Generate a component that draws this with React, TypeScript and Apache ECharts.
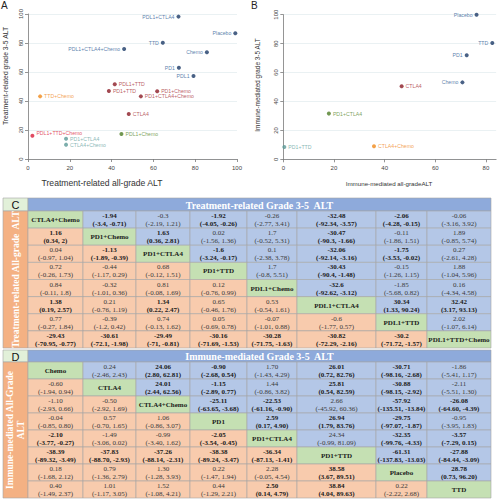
import React, { useEffect, useRef } from 'react';
import * as echarts from 'echarts';

// ---------- Panel A: treatment-related ALT (SUCRA) ----------
const aNames = ['PDL1+CTLA4', 'Placebo', 'TTD', 'PDL1+CTLA4+Chemo', 'Chemo', 'PD1', 'PDL1',
  'PDL1+TTD', 'PD1+TTD', 'PD1+Chemo', 'PD1+CTLA4+Chemo', 'CTLA4',
  'TTD+Chemo', 'PDL1+TTD+Chemo', 'PDL1+Chemo', 'PD1+CTLA4', 'CTLA4+Chemo'];
const aX = [72.0, 99.2, 64.5, 46.0, 85.6, 72.2, 79.2, 41.5, 38.7, 61.8, 54.0, 48.2, 5.8, 2.1, 44.7, 18.2, 18.2];
const aY = [98.2, 86.7, 80.2, 75.9, 73.6, 63.0, 57.2, 51.5, 46.9, 46.7, 43.2, 31.0, 43.2, 16.1, 17.2, 14.0, 9.9];
const aGroup = ['blue', 'blue', 'blue', 'blue', 'blue', 'blue', 'blue', 'red', 'red', 'red', 'red', 'red',
  'orange', 'crimson', 'green', 'teal', 'teal'];

// ---------- Panel B: immune-mediated ALT ----------
const bNames = ['Placebo', 'TTD', 'PD1', 'Chemo', 'CTLA4', 'PD1+CTLA4', 'PD1+TTD', 'CTLA4+Chemo'];
const bX = [76.3, 82.5, 72.4, 70.7, 46.7, 18.0, 0.4, 35.8];
const bY = [100, 80.4, 71.9, 53.2, 50.5, 31.6, 8.5, 9.0];
const bGroup = ['blue', 'blue', 'blue', 'blue', 'red', 'green', 'teal', 'orange'];

const axisTicks = [0, 20, 40, 60, 80, 100];

// ---------- Table C ----------
const cNames = ['CTLA4+Chemo', 'PD1+Chemo', 'PD1+CTLA4', 'PD1+TTD', 'PDL1+Chemo', 'PDL1+CTLA4', 'PDL1+TTD', 'PDL1+TTD+Chemo'];
const cEst = [
  [null, -1.94, -0.3, -1.92, -0.26, -32.48, -2.06, -0.06],
  [1.16, null, 1.63, 0.02, 1.7, -30.47, -0.11, 1.89],
  [0.04, -1.13, null, -1.6, 0.1, -32.06, -1.75, 0.27],
  [0.72, -0.44, 0.68, null, 1.7, -30.43, -0.15, 1.88],
  [0.84, -0.32, 0.81, 0.12, null, -32.6, -1.85, 0.16],
  [1.38, 0.21, 1.34, 0.65, 0.53, null, 30.34, 32.42],
  [0.77, -0.39, 0.74, 0.05, -0.07, -0.6, null, 2.02],
  [-29.43, -30.61, -29.49, -30.16, -30.28, -30.82, -30.2, null],
];
const cLo = [
  [null, -3.4, -2.19, -4.05, -2.77, -92.34, -4.28, -3.16],
  [0.34, null, 0.36, -1.56, -0.52, -90.3, -1.86, -0.85],
  [-0.97, -1.89, null, -3.24, -2.38, -92.14, -3.53, -2.61],
  [-0.26, -1.17, -0.12, null, -0.8, -90.4, -1.26, -1.04],
  [-0.11, -1.01, -0.08, -0.76, null, -92.62, -5.68, -4.34],
  [0.19, -0.76, 0.22, -0.46, -0.54, null, 1.33, 3.17],
  [-0.27, -1.2, -0.13, -0.69, -1.01, -1.77, null, -1.07],
  [-70.95, -72.1, -71, -71.69, -71.75, -72.29, -71.72, null],
];
const cHi = [
  [null, -0.71, 1.21, -0.26, 3.41, -3.57, -0.15, 3.92],
  [2, null, 2.81, 1.36, 5.31, -1.66, 1.51, 5.74],
  [1.04, -0.39, null, -0.17, 3.78, -3.16, -0.02, 4.28],
  [1.73, 0.29, 1.51, null, 5.51, -1.48, 1.15, 5.96],
  [1.8, 0.36, 1.69, 0.99, null, -3.12, 0.82, 4.58],
  [2.57, 1.19, 2.47, 1.76, 1.61, null, 90.24, 93.13],
  [1.84, 0.42, 1.62, 0.78, 0.88, 0.57, null, 6.14],
  [-0.77, -1.98, -0.81, -1.53, -1.63, -2.16, -1.57, null],
];
const cBoldExtra: number[][] = [];

// ---------- Table D ----------
const dNames = ['Chemo', 'CTLA4', 'CTLA4+Chemo', 'PD1', 'PD1+CTLA4', 'PD1+TTD', 'Placebo', 'TTD'];
const dEst = [
  [null, 0.24, 24.06, -0.90, 1.70, 26.01, -30.71, -1.86],
  [-0.60, null, 24.01, -1.15, 1.44, 25.81, -30.88, -2.11],
  [-1.10, -0.50, null, -25.11, -22.53, 2.66, -57.92, -26.08],
  [-0.04, 0.57, 1.06, null, 2.59, 26.94, -29.75, -0.95],
  [-2.10, -1.49, -0.99, -2.05, null, 24.34, -32.35, -3.57],
  [-38.39, -37.83, -37.26, -38.38, -36.34, null, -61.31, -27.88],
  [0.18, 0.79, 1.30, 0.22, 2.28, 38.58, null, 28.78],
  [0.40, 1.01, 1.52, 0.44, 2.50, 38.84, 0.22, null],
];
const dLo = [
  [null, -2.46, 2.80, -2.68, -1.43, 0.72, -98.16, -5.41],
  [-1.94, null, 2.44, -2.89, -0.86, 0.54, -98.15, -5.51],
  [-2.93, -2.92, null, -63.65, -61.16, -45.92, -135.51, -64.60],
  [-0.85, -0.70, -0.86, null, 0.17, 1.79, -97.07, -3.95],
  [-3.77, -3.06, -3.40, -3.54, null, -0.99, -99.76, -7.29],
  [-89.32, -88.70, -88.14, -89.24, -87.13, null, -137.83, -84.44],
  [-1.68, -1.36, -1.28, -1.47, -0.05, 3.67, null, 0.73],
  [-1.49, -1.17, -1.08, -1.29, 0.14, 4.04, -2.22, null],
];
const dHi = [
  [null, 2.43, 62.81, 0.54, 4.29, 82.76, -2.68, 1.17],
  [0.94, null, 62.56, 0.77, 3.82, 82.59, -2.92, 1.30],
  [0.66, 1.69, null, -3.68, -0.90, 60.36, -13.84, -4.39],
  [0.80, 1.65, 3.07, null, 4.90, 83.76, -1.87, 1.83],
  [-0.27, 0.02, 1.62, -0.45, null, 81.09, -4.33, 0.15],
  [-3.49, -2.93, -2.31, -3.47, -1.41, null, -13.03, -3.09],
  [2.12, 2.79, 3.93, 1.94, 4.54, 89.51, null, 96.20],
  [2.37, 3.05, 4.21, 2.21, 4.79, 89.63, 2.68, null],
];
const dBoldExtra = [[0, 3], [1, 3], [4, 7]];

// ---------- layout / style ----------
const COL_EDGES = [0, 55, 108, 162, 219, 269, 348, 399, 463];
const SANS = 'Liberation Sans, Arial, sans-serif';
const SERIF = 'Liberation Serif, Times New Roman, serif';
const GROUPS: Record<string, any> = {
  blue: { dot: '#1b3a66', label: '#2f5d95', side: 'left', dy: 0 },
  red: { dot: '#8b1c26', label: '#a83238', side: 'right', dy: 0 },
  orange: { dot: '#f08a1c', label: '#f08a1c', side: 'right', dy: 0 },
  crimson: { dot: '#d91e3a', label: '#d91e3a', side: 'right', dy: -3 },
  green: { dot: '#4e7d25', label: '#5a8a30', side: 'right', dy: 0 },
  teal: { dot: '#5b9a97', label: '#6aa5a2', side: 'right', dy: 0 },
};
const C_BLUE = '#b4c7e7';
const C_ORANGE = '#f8cbad';
const C_GREEN = '#c5e0b3';
const C_HEAD = '#8eaadb';
const C_SIDE = '#f4b183';
const C_BOX = '#e2f0d9';
const BORDER = '#a6a6a6';

function scatterSeries(names: string[], xs: number[], ys: number[], groups: string[], idx: number) {
  return Object.keys(GROUPS).map((g) => {
    const st = GROUPS[g];
    const data = names
      .map((n, i) => ({ name: n, value: [xs[i], ys[i]], g: groups[i] }))
      .filter((d) => d.g === g)
      .map((d) => ({ name: d.name, value: d.value }));
    return {
      type: 'scatter',
      xAxisIndex: idx,
      yAxisIndex: idx,
      symbolSize: 4,
      itemStyle: { color: st.dot },
      label: {
        show: true,
        position: st.side,
        distance: 2,
        offset: [0, st.dy],
        formatter: '{b}',
        color: st.label,
        fontSize: 5.2,
        fontFamily: SANS,
      },
      data,
    };
  }).filter((s) => s.data.length > 0);
}

function tableSeries(names: string[], est: any[][], lo: any[][], hi: any[][], fmt: (v: number) => string,
  boldExtra: number[][], idx: number) {
  const data: number[][] = [];
  for (let r = 0; r < names.length; r++) for (let c = 0; c < names.length; c++) data.push([c, r]);
  return {
    type: 'custom',
    xAxisIndex: idx,
    yAxisIndex: idx,
    silent: true,
    clip: false,
    renderItem: (params: any, api: any) => {
      const c = api.value(0);
      const r = api.value(1);
      const p0 = api.coord([COL_EDGES[c], r]);
      const p1 = api.coord([COL_EDGES[c + 1], r + 1]);
      const x = p0[0];
      const y = p0[1];
      const w = p1[0] - p0[0];
      const h = p1[1] - p0[1];
      let fill: string;
      let text: string;
      let bold: boolean;
      let color = '#1a1a1a';
      if (r === c) {
        fill = C_GREEN;
        text = names[r];
        bold = true;
      } else {
        fill = c > r ? C_BLUE : C_ORANGE;
        const l = lo[r][c];
        const u = hi[r][c];
        text = fmt(est[r][c]) + '\n(' + fmt(l) + ', ' + fmt(u) + ')';
        bold = (l > 0 && u > 0) || (l < 0 && u < 0) || boldExtra.some((p) => p[0] === r && p[1] === c);
        if (!bold) color = '#3a3a3a';
      }
      return {
        type: 'group',
        children: [
          { type: 'rect', shape: { x, y, width: w, height: h }, style: { fill, stroke: BORDER, lineWidth: 0.6 } },
          {
            type: 'text',
            style: {
              text, x: x + w / 2, y: y + h / 2 + 0.5, align: 'center', verticalAlign: 'middle',
              fill: color, fontSize: 7, fontFamily: SERIF, fontWeight: bold ? 'bold' : 'normal', lineHeight: 8,
            },
          },
        ],
      };
    },
    data,
  };
}

const fmtC = (v: number) => String(v);
const fmtD = (v: number) => v.toFixed(2);

function scatterAxes(left: number, top: number, width: number, height: number, xMax: number) {
  const grid = { left, top, width, height };
  const axisLine = { show: true, lineStyle: { color: '#7a7a7a', width: 0.8 } };
  const xAxis = {
    type: 'value', min: 0, max: xMax, interval: 20,
    axisLine, axisTick: { show: true, length: 3, lineStyle: { color: '#7a7a7a', width: 0.8 }, customValues: axisTicks.filter((t) => t <= xMax) },
    axisLabel: { fontSize: 6, color: '#444', fontFamily: SANS, margin: 6, customValues: axisTicks.filter((t) => t <= xMax) },
    splitLine: { show: false },
  };
  const yAxis = {
    type: 'value', min: 0, max: 100, interval: 20,
    axisLine, axisTick: { show: true, length: 3, lineStyle: { color: '#7a7a7a', width: 0.8 } },
    axisLabel: { fontSize: 6, color: '#444', fontFamily: SANS, margin: 4, rotate: 90 },
    splitLine: { show: true, lineStyle: { color: '#e4eef0', width: 0.8 } },
  };
  return { grid, xAxis, yAxis };
}

function tableAxes(left: number, top: number, width: number, height: number) {
  return {
    grid: { left, top, width, height },
    xAxis: { type: 'value', min: 0, max: COL_EDGES[COL_EDGES.length - 1], show: false },
    yAxis: { type: 'value', min: 0, max: 8, inverse: true, show: false },
  };
}

function buildOption() {
  const A = scatterAxes(28, 14, 209, 145, 100);
  const B = scatterAxes(283.3, 14.7, 212.8, 144.6, 84);
  const C = tableAxes(28, 211, 463, 137);
  const D = tableAxes(28, 362, 463, 136);
  const headText = (text: string, x: number, y: number) => ({
    type: 'text', x, y,
    style: { text, align: 'center', verticalAlign: 'middle', fill: '#fff', fontSize: 10, fontWeight: 'bold', fontFamily: SERIF },
  });
  const rect = (x: number, y: number, w: number, h: number, fill: string) => ({
    type: 'rect', shape: { x, y, width: w, height: h }, style: { fill, stroke: BORDER, lineWidth: 0.6 },
  });
  return {
    animation: false,
    backgroundColor: '#ffffff',
    grid: [A.grid, B.grid, C.grid, D.grid],
    xAxis: [
      { ...A.xAxis, gridIndex: 0 }, { ...B.xAxis, gridIndex: 1 },
      { ...C.xAxis, gridIndex: 2 }, { ...D.xAxis, gridIndex: 3 },
    ],
    yAxis: [
      { ...A.yAxis, gridIndex: 0 }, { ...B.yAxis, gridIndex: 1 },
      { ...C.yAxis, gridIndex: 2 }, { ...D.yAxis, gridIndex: 3 },
    ],
    series: [
      ...scatterSeries(aNames, aX, aY, aGroup, 0),
      ...scatterSeries(bNames, bX, bY, bGroup, 1),
      tableSeries(cNames, cEst, cLo, cHi, fmtC, cBoldExtra, 2),
      tableSeries(dNames, dEst, dLo, dHi, fmtD, dBoldExtra, 3),
    ],
    graphic: [
      // panel letters
      { type: 'text', x: 1, y: 0, style: { text: 'A', fontSize: 10, fontFamily: SANS, fill: '#222' } },
      { type: 'text', x: 251, y: 0, style: { text: 'B', fontSize: 10, fontFamily: SANS, fill: '#222' } },
      // axis titles
      { type: 'text', x: 102, y: 183, style: { text: 'Treatment-related all-grade ALT', align: 'center', verticalAlign: 'middle', fontSize: 8.6, fontFamily: SANS, fill: '#333' } },
      { type: 'text', x: 5, y: 76, rotation: Math.PI / 2, style: { text: 'Treatment-related grade 3-5 ALT', align: 'center', verticalAlign: 'middle', fontSize: 6.8, fontFamily: SANS, fill: '#333' } },
      { type: 'text', x: 389, y: 183, style: { text: 'Immune-mediated all-gradeALT', align: 'center', verticalAlign: 'middle', fontSize: 6.2, fontFamily: SANS, fill: '#333' } },
      { type: 'text', x: 257, y: 85, rotation: Math.PI / 2, style: { text: 'Immune-mediated grade 3-5 ALT', align: 'center', verticalAlign: 'middle', fontSize: 6.4, fontFamily: SANS, fill: '#333' } },
      // table C frame
      rect(3, 198, 25, 13, C_BOX),
      { type: 'text', x: 15.5, y: 205, style: { text: 'C', align: 'center', verticalAlign: 'middle', fontSize: 11, fontFamily: SANS, fill: '#111' } },
      rect(28, 198, 463, 13, C_HEAD),
      headText('Treatment-related Grade 3-5  ALT', 259.5, 205),
      rect(3, 211, 25, 137, C_SIDE),
      { type: 'text', x: 15.5, y: 279.5, rotation: Math.PI / 2, style: { text: 'Treatment-related All-grade  ALT', align: 'center', verticalAlign: 'middle', fontSize: 9.5, fontWeight: 'bold', fontFamily: SERIF, fill: '#fff' } },
      // table D frame
      rect(3, 350, 25, 12, C_BOX),
      { type: 'text', x: 15.5, y: 356.5, style: { text: 'D', align: 'center', verticalAlign: 'middle', fontSize: 11, fontFamily: SANS, fill: '#111' } },
      rect(28, 350, 463, 12, C_HEAD),
      headText('Immune-mediated Grade 3-5  ALT', 259.5, 356.5),
      rect(3, 362, 25, 136, C_SIDE),
      { type: 'text', x: 15.5, y: 430, rotation: Math.PI / 2, style: { text: 'Immune-mediated All-Grade\nALT', align: 'center', verticalAlign: 'middle', fontSize: 9.5, lineHeight: 11, fontWeight: 'bold', fontFamily: SERIF, fill: '#fff' } },
    ],
  };
}

export default function App() {
  const ref = useRef<HTMLDivElement>(null);
  useEffect(() => {
    if (!ref.current) return;
    const chart = echarts.init(ref.current, null, { renderer: 'svg' });
    chart.setOption(buildOption() as any);
    return () => chart.dispose();
  }, []);
  return (
    <div
      ref={ref}
      style={{ position: 'absolute', left: 0, top: 0, width: 499, height: 500, background: '#fff' }}
    />
  );
}
